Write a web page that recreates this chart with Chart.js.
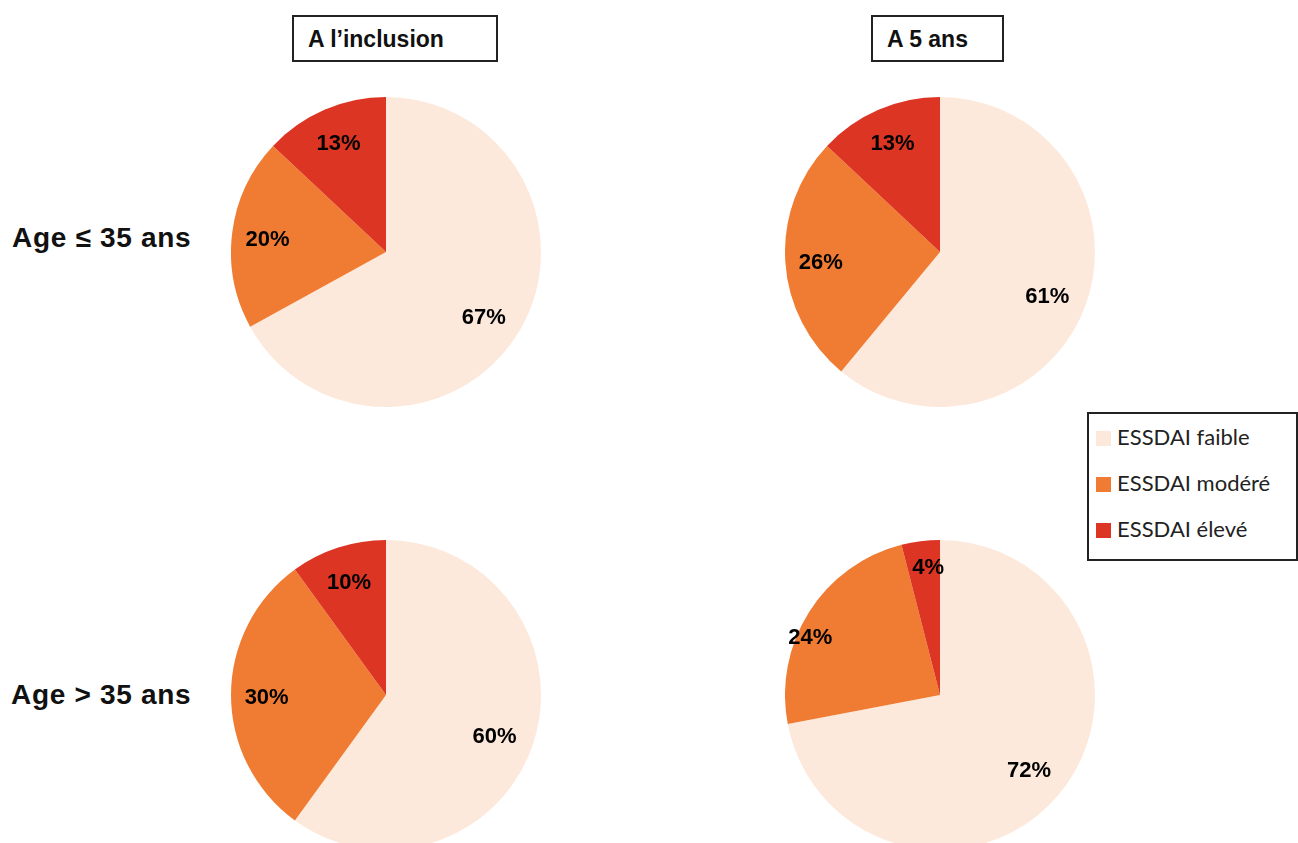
<!DOCTYPE html>
<html>
<head>
<meta charset="utf-8">
<script src="https://cdn.jsdelivr.net/npm/chart.js@4.4.0/dist/chart.umd.min.js"></script>
<style>
    body { margin: 0; background: #fff; width: 1298px; height: 843px; overflow: hidden; position: relative; font-family: "Liberation Sans", Arial, sans-serif; }
    .pie { position: absolute; }
    .header { position: absolute; top: 15px; height: 43px; border: 2px solid #222; font-size: 23px; font-weight: bold; line-height: 44px; color: #111; box-sizing: content-box; }
    .rowlabel { position: absolute; font-weight: bold; font-size: 28px; letter-spacing: 0.7px; color: #111; white-space: nowrap; }
    .legend { position: absolute; left: 1087px; top: 412px; width: 207px; height: 145px; border: 2px solid #222; font-family: Lato, "Open Sans", sans-serif; font-size: 22px; color: #222; }
    .legend div { position: absolute; left: 7px; white-space: nowrap; height: 24px; line-height: 24px; }
    .legend span { display: inline-block; width: 15px; height: 15px; margin-right: 6px; vertical-align: -1px; }
</style>
</head>
<body>
<div class="header" style="left:292px;width:202px;"><span style="padding-left:14px;">A l’inclusion</span></div>
<div class="header" style="left:871px;width:129px;"><span style="padding-left:14px;">A 5 ans</span></div>
<div class="rowlabel" style="left:12px;top:222px;">Age ≤ 35 ans</div>
<div class="rowlabel" style="left:11px;top:679px;">Age &gt; 35 ans</div>
<div class="legend" id="legend"></div>

<canvas id="pie-young-start" class="pie" width="310" height="310" style="left:231px;top:97px;"></canvas>
<canvas id="pie-young-5y" class="pie" width="310" height="310" style="left:785px;top:97px;"></canvas>
<canvas id="pie-old-start" class="pie" width="310" height="310" style="left:231px;top:540px;"></canvas>
<canvas id="pie-old-5y" class="pie" width="310" height="310" style="left:785px;top:540px;"></canvas>

<script>
// categories
const categories = ["ESSDAI faible", "ESSDAI modéré", "ESSDAI élevé"];
const colors = ["#FDE9DC", "#F07C33", "#DD3524"];

// values (%)
const youngInclusion = [67, 20, 13];
const youngFiveYears = [61, 26, 13];
const oldInclusion = [60, 30, 10];
const oldFiveYears = [72, 24, 4];

// label placement tweaks, per slice (dx, dy in px)
const defaultNudge = [[-5, 5], [0, 3], [0, 1]];
const oldFiveYearsNudge = [[-3, 0], [-29, 7], [3, -9]];

const sliceLabels = {
    id: "sliceLabels",
    afterDatasetsDraw(chart, args, opts) {
        const ctx = chart.ctx;
        const meta = chart.getDatasetMeta(0);
        const values = chart.data.datasets[0].data;
        ctx.save();
        ctx.font = "bold 22px 'Liberation Sans', Arial, sans-serif";
        ctx.fillStyle = "#000";
        ctx.textAlign = "center";
        ctx.textBaseline = "middle";
        meta.data.forEach((arc, i) => {
            const p = arc.getProps(["x", "y", "startAngle", "endAngle", "outerRadius"], true);
            const mid = (p.startAngle + p.endAngle) / 2;
            const r = p.outerRadius * 0.77;
            const nudge = opts.nudge[i];
            ctx.fillText(values[i] + "%", p.x + Math.cos(mid) * r + nudge[0], p.y + Math.sin(mid) * r + nudge[1]);
        });
        ctx.restore();
    }
};

function makePie(id, values, nudge) {
    const ctx = document.getElementById(id).getContext("2d");
    return new Chart(ctx, {
        type: "pie",
        data: {
            labels: categories,
            datasets: [{
                data: values,
                backgroundColor: colors,
                borderWidth: 0,
            }]
        },
        options: {
            responsive: false,
            animation: false,
            layout: { padding: 0 },
            plugins: {
                legend: { display: false },
                tooltip: { enabled: false },
                sliceLabels: { nudge: nudge },
            }
        },
        plugins: [sliceLabels]
    });
}

makePie("pie-young-start", youngInclusion, defaultNudge);
makePie("pie-young-5y", youngFiveYears, defaultNudge);
makePie("pie-old-start", oldInclusion, defaultNudge);
makePie("pie-old-5y", oldFiveYears, oldFiveYearsNudge);

// legend
const legendEl = document.getElementById("legend");
categories.forEach((name, i) => {
    const row = document.createElement("div");
    row.style.top = (11 + i * 46) + "px";
    row.innerHTML = '<span style="background:' + colors[i] + '"></span>' + name;
    legendEl.appendChild(row);
});
</script>
</body>
</html>
